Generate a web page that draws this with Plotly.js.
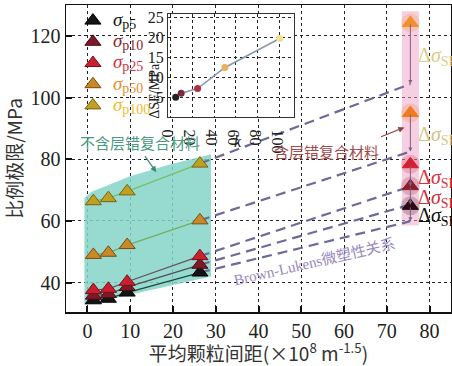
<!DOCTYPE html>
<html>
<head>
<meta charset="utf-8">
<script src="https://cdn.plot.ly/plotly-3.0.1.min.js"></script>
<style>html,body{margin:0;padding:0;background:#fff;}#chart{width:452px;height:366px;}</style>
</head>
<body>
<div id="chart"></div>
<script>
// ---- data ----
const seriesNames = ['p5', 'p10', 'p25', 'p50', 'p100'];
const spacing = [1.4, 4.9, 9.3, 26.3];            // 平均颗粒间距 (non-layered composites)
const p5NoSF   = [34.3, 34.8, 36.8, 43.3];
const p10NoSF  = [35.8, 36.3, 38.6, 45.8];
const p25NoSF  = [37.6, 38.0, 40.3, 48.6];
const p50NoSF  = [49.0, 49.7, 52.2, 60.2];
const p100NoSF = [66.4, 67.4, 69.6, 78.6];
const layeredSpacing = 75.5;                       // composite with stacking faults
const layeredValues = [64.9, 71.3, 78.4, 95.0, 124.2];
const kValues = [5, 10, 25, 50, 100];
const deltaSF = [5.0, 6.0, 7.2, 12.5, 19.8];       // ΔSF / MPa
const tealBandX = [-0.7, -0.7, 1, 10, 19, 28.9, 28.9, -0.7];
const tealBandY = [32.8, 67.5, 69.5, 74.5, 78.2, 81.6, 42.0, 32.8];
const pinkBandY = [58.5, 128];
const xTicks = [0, 10, 20, 30, 40, 50, 60, 70, 80];
const yTicks = [40, 60, 80, 100, 120];
const kTicks = [0, 20, 40, 60, 80, 100];
const dTicks = [5, 10, 15, 20, 25];

// ---- styles ----
const noSF = [p5NoSF, p10NoSF, p25NoSF, p50NoSF, p100NoSF];
const legendColors = ['#111111', '#8b2232', '#d0303a', '#ec8a2c', '#eebd2a'];
const markerColors = ['#141414', '#7e1a28', '#c8202e', '#c88a26', '#c0a020'];
const markerLines  = ['#000000', '#4a0c14', '#7a1018', '#7a4a10', '#7a6010'];
const layeredColors = ['#2a0a14', '#8b1e2e', '#d42030', '#f07a20', '#f0902a'];
const solidLineColors = ['#1e4a3a', '#505050', '#6a5060', '#70b060', '#78c060'];
const deltaLabelColors = ['#111111', '#d03040', '#e0303c', '#d4c28c', '#d8cc88'];
const inkColors = ['#222222', '#7a2a3a', '#b03040', '#e8b060', '#f0e090'];
const serif = 'Liberation Serif, Times New Roman, Noto Sans CJK SC, serif';
const cjk = 'Noto Sans CJK SC, Liberation Serif, serif';

const traces = [];
// teal region
traces.push({x: tealBandX, y: tealBandY, type: 'scatter', mode: 'lines', fill: 'toself',
  fillcolor: 'rgba(132,212,200,0.85)', line: {width: 0}, showlegend: false, hoverinfo: 'skip'});
// pink band
traces.push({x: [layeredSpacing, layeredSpacing], y: pinkBandY, type: 'scatter', mode: 'lines',
  line: {color: 'rgba(240,160,200,0.5)', width: 17}, showlegend: false, hoverinfo: 'skip'});

// solid lines
for (let i = 0; i < 5; i++) {
  traces.push({x: spacing, y: noSF[i], type: 'scatter', mode: 'lines',
    line: {color: solidLineColors[i], width: 1.3}, showlegend: false, hoverinfo: 'skip'});
}
// dashed Brown-Lukens lines
for (let i = 0; i < 5; i++) {
  traces.push({x: [spacing[3], layeredSpacing], y: [noSF[i][3], layeredValues[i] - deltaSF[i]],
    type: 'scatter', mode: 'lines', line: {color: '#6e6a98', width: 2.2, dash: '10px,6px'},
    showlegend: false, hoverinfo: 'skip'});
}
// glow for layered points
traces.push({x: layeredValues.map(() => layeredSpacing), y: layeredValues, type: 'scatter', mode: 'markers',
  marker: {symbol: 'circle', size: 19, color: layeredColors, opacity: 0.22}, showlegend: false, hoverinfo: 'skip'});
// non-layered markers (legend)
for (let i = 0; i < 5; i++) {
  traces.push({x: spacing, y: noSF[i], type: 'scatter', mode: 'markers',
    name: '<span style="color:' + legendColors[i] + '"><span style="font-size:19px"><i>σ</i></span><sub><span style="font-size:14px">' + seriesNames[i] + '</span></sub></span>',
    marker: {symbol: 'triangle-up', size: 14, color: markerColors[i], line: {color: markerLines[i], width: 1}}});
}
// layered markers
traces.push({x: layeredValues.map(() => layeredSpacing), y: layeredValues, type: 'scatter', mode: 'markers',
  marker: {symbol: 'triangle-up', size: 14, color: layeredColors, line: {color: layeredColors, width: 1}},
  showlegend: false});
// inset
traces.push({x: kValues, y: deltaSF, xaxis: 'x2', yaxis: 'y2', type: 'scatter', mode: 'lines+markers',
  line: {color: '#8898b0', width: 1.5}, marker: {size: 7, color: inkColors}, showlegend: false});

const annotations = [];
// vertical arrows ΔSF
for (let i = 0; i < 5; i++) {
  annotations.push({x: layeredSpacing, y: layeredValues[i] - deltaSF[i], ax: layeredSpacing, ay: layeredValues[i],
    xref: 'x', yref: 'y', axref: 'x', ayref: 'y', text: '', showarrow: true,
    arrowhead: 2, arrowsize: 0.8, arrowwidth: 1, arrowcolor: '#806080', standoff: 0, startstandoff: 0});
  annotations.push({x: 76.9, y: layeredValues[i] - deltaSF[i] / 2 - 1, xref: 'x', yref: 'y', xanchor: 'left',
    yanchor: 'middle', showarrow: false,
    text: 'Δ<i>σ</i><sub>SF,' + seriesNames[i] + '</sub>',
    font: {family: serif, size: 20, color: deltaLabelColors[i]}});
}
annotations.push({x: 12.4, y: 85.5, xref: 'x', yref: 'y', text: '不含层错复合材料', showarrow: false,
  font: {family: cjk, size: 15, color: '#4a9a80'}});
annotations.push({x: 16.1, y: 75.8, ax: 13.2, ay: 81.5, xref: 'x', yref: 'y', axref: 'x', ayref: 'y', text: '',
  showarrow: true, arrowhead: 2, arrowsize: 1, arrowwidth: 1.2, arrowcolor: '#3a8a70'});
annotations.push({x: 56, y: 82.6, xref: 'x', yref: 'y', text: '含层错复合材料', showarrow: false,
  font: {family: cjk, size: 15, color: '#a04a4a'}});
annotations.push({x: 74.1, y: 90.3, ax: 68.3, ay: 87.1, xref: 'x', yref: 'y', axref: 'x', ayref: 'y', text: '',
  showarrow: true, arrowhead: 2, arrowsize: 1, arrowwidth: 1.2, arrowcolor: '#904040'});
annotations.push({x: 53.1, y: 46.8, xref: 'x', yref: 'y', text: 'Brown-Lukens微塑性关系', showarrow: false,
  textangle: -13, font: {family: serif, size: 15, color: '#9a88c0'}});
// inset axis titles
annotations.push({x: 0.205, y: 0.82, xref: 'paper', yref: 'paper', text: 'ΔSF/MPa', textangle: -90,
  showarrow: false, font: {family: serif, size: 14, color: '#222'}});
annotations.push({x: 0.447, y: 0.554, xref: 'paper', yref: 'paper', text: '<i>k</i>',
  showarrow: false, font: {family: serif, size: 16, color: '#222'}});

const grid = {showgrid: true, gridcolor: '#222', gridwidth: 1, griddash: '3px,3px'};
const layout = {
  width: 452, height: 366,
  margin: {l: 66, r: 1, t: 5, b: 54},
  paper_bgcolor: '#fff', plot_bgcolor: '#fff',
  font: {family: serif, color: '#222'},
  xaxis: Object.assign({range: [-5, 85], tickvals: xTicks, ticks: 'inside', ticklen: 6, tickwidth: 2,
    tickcolor: '#111', showline: true, mirror: true, linecolor: '#111', linewidth: 1.5, zeroline: false,
    tickfont: {family: serif, size: 20, color: '#222'},
    title: {text: '平均颗粒间距(×10<sup>8</sup> m<sup>-1.5</sup>)', font: {family: cjk, size: 19, color: '#333'}, standoff: 8}
  }, grid),
  yaxis: Object.assign({range: [30.5, 130], tickvals: yTicks, ticks: 'inside', ticklen: 6, tickwidth: 2,
    tickcolor: '#111', showline: true, mirror: true, linecolor: '#111', linewidth: 1.5, zeroline: false,
    tickfont: {family: serif, size: 20, color: '#222'},
    title: {text: '比例极限/MPa', font: {family: cjk, size: 19, color: '#333'}, standoff: 6}
  }, grid),
  xaxis2: Object.assign({domain: [0.265, 0.592], range: [-2, 113], anchor: 'y2', tickvals: kTicks,
    showline: true, mirror: true, linecolor: '#333', linewidth: 1.2, zeroline: false, ticks: '',
    tickfont: {family: serif, size: 16, color: '#222'}
  }, grid),
  yaxis2: Object.assign({domain: [0.635, 0.971], range: [0, 26], anchor: 'x2', tickvals: dTicks,
    showline: true, mirror: true, linecolor: '#333', linewidth: 1.2, zeroline: false, ticks: '',
    tickfont: {family: serif, size: 16, color: '#222'}
  }, grid),
  legend: {x: 0.018, y: 1.0, xanchor: 'left', yanchor: 'top', bgcolor: 'rgba(0,0,0,0)',
    font: {family: serif, size: 14}, itemwidth: 30, tracegroupgap: 0},
  annotations: annotations,
  showlegend: true
};
Plotly.newPlot('chart', traces, layout, {displayModeBar: false, staticPlot: true});
</script>
</body>
</html>
